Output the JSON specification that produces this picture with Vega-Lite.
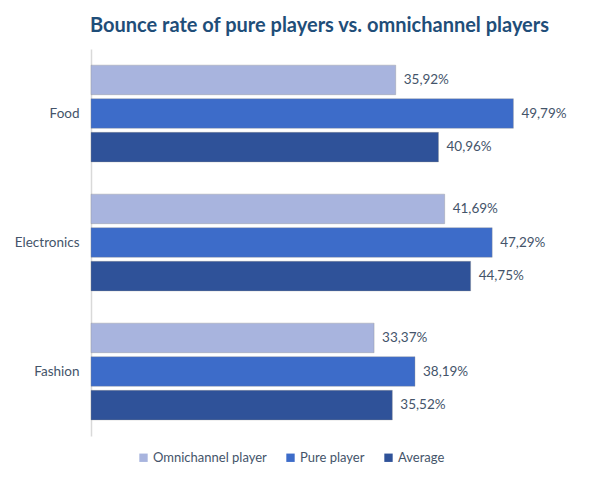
{
  "$schema": "https://vega.github.io/schema/vega-lite/v6.json",
  "width": 509,
  "height": 387,
  "autosize": "none",
  "padding": {"left": 91, "top": 49, "right": 0, "bottom": 46},
  "background": "white",
  "config": {
    "locale": {"number": {"decimal": ",", "thousands": ".", "grouping": [3], "currency": ["", " €"]}},
    "view": {"stroke": null},
    "font": "Lato"
  },
  "title": {
    "text": "Bounce rate of pure players vs. omnichannel players",
    "font": "Lato",
    "fontSize": 20,
    "fontWeight": "bold",
    "color": "#1f4e79",
    "anchor": "middle",
    "dx": -26,
    "offset": 13
  },
  "data": {
    "values": [
      {"category": "Food", "series": "Omnichannel player", "value": 0.3592},
      {"category": "Food", "series": "Pure player", "value": 0.4979},
      {"category": "Food", "series": "Average", "value": 0.4096},
      {"category": "Electronics", "series": "Omnichannel player", "value": 0.4169},
      {"category": "Electronics", "series": "Pure player", "value": 0.4729},
      {"category": "Electronics", "series": "Average", "value": 0.4475},
      {"category": "Fashion", "series": "Omnichannel player", "value": 0.3337},
      {"category": "Fashion", "series": "Pure player", "value": 0.3819},
      {"category": "Fashion", "series": "Average", "value": 0.3552}
    ]
  },
  "encoding": {
    "y": {
      "field": "category",
      "type": "nominal",
      "sort": ["Food", "Electronics", "Fashion"],
      "scale": {"paddingInner": 0.25, "paddingOuter": 0.125},
      "axis": {
        "title": null,
        "ticks": false,
        "domainColor": "#d9d9d9",
        "domainWidth": 1.5,
        "labelColor": "#44546a",
        "labelFontSize": 13.5,
        "labelPadding": 12,
        "labelFont": "Lato"
      }
    },
    "yOffset": {
      "field": "series",
      "type": "nominal",
      "sort": ["Omnichannel player", "Pure player", "Average"],
      "scale": {"paddingInner": 0.12}
    },
    "x": {
      "field": "value",
      "type": "quantitative",
      "scale": {"domain": [0, 0.6]},
      "axis": null
    }
  },
  "layer": [
    {
      "mark": {"type": "bar", "stroke": "#8c8c8c", "strokeOpacity": 0.35, "strokeWidth": 1},
      "encoding": {
        "color": {
          "field": "series",
          "type": "nominal",
          "scale": {
            "domain": ["Omnichannel player", "Pure player", "Average"],
            "range": ["#a8b4de", "#3d6cc9", "#2f5299"]
          },
          "legend": {
            "title": null,
            "orient": "none",
            "direction": "horizontal",
            "legendX": 46,
            "legendY": 402,
            "symbolType": "square",
            "symbolSize": 70,
            "symbolStrokeWidth": 0,
            "labelColor": "#44546a",
            "labelFontSize": 13,
            "labelFont": "Lato",
            "labelOffset": 3,
            "columnPadding": 17
          }
        }
      }
    },
    {
      "mark": {"type": "text", "align": "left", "dx": 8, "fontSize": 13.5, "color": "#44546a", "font": "Lato"},
      "encoding": {
        "text": {"field": "value", "type": "quantitative", "format": ".2%"}
      }
    }
  ]
}
